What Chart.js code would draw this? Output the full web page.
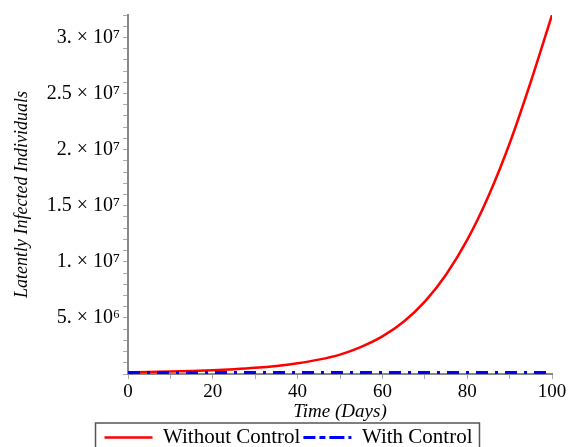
<!DOCTYPE html>
<html>
<head>
<meta charset="utf-8">
<script src="https://cdn.jsdelivr.net/npm/chart.js@4/dist/chart.umd.min.js"></script>
<style>
  html, body { margin: 0; padding: 0; background: #ffffff; }
  #wrap { width: 577px; height: 447px; }
</style>
</head>
<body>
<div id="wrap"><canvas id="c" width="577" height="447"></canvas></div>
<script>
// ---- data ----
const days = [0, 5, 10, 15, 20, 25, 30, 35, 40, 45, 50, 55, 60, 65, 70, 75, 80, 85, 90, 95, 100];
const withoutControl = [1.5e5, 1.8e5, 2.2e5, 2.7e5, 3.4e5, 4.3e5, 5.5e5, 7.2e5, 9.6e5, 1.28e6, 1.73e6,
  2.42e6, 3.35e6, 4.65e6, 6.45e6, 8.85e6, 1.195e7, 1.585e7, 2.055e7, 2.605e7, 3.2e7];
const withControl = [1.3e5, 1.3e5, 1.3e5, 1.3e5, 1.3e5, 1.3e5, 1.3e5, 1.3e5, 1.3e5, 1.3e5, 1.3e5,
  1.3e5, 1.3e5, 1.3e5, 1.3e5, 1.3e5, 1.3e5, 1.3e5, 1.3e5, 1.3e5, 1.3e5];
const seriesNames = ['Without Control', 'With Control'];
const xTickValues = [0, 20, 40, 60, 80, 100];
const xTickLabels = ['0', '20', '40', '60', '80', '100'];
const yTickValues = [5e6, 1e7, 1.5e7, 2e7, 2.5e7, 3e7];
const yTickLabels = ['5. \u00d7 10\u2076', '1. \u00d7 10\u2077', '1.5 \u00d7 10\u2077', '2. \u00d7 10\u2077', '2.5 \u00d7 10\u2077', '3. \u00d7 10\u2077'];
const xTitle = 'Time (Days)';
const yTitle = 'Latently Infected Individuals';

const serif = "'Liberation Serif', 'Times New Roman', serif";

const legendBorder = {
  id: 'legendBorder',
  afterDraw(chart) {
    const lg = chart.legend;
    if (!lg || !lg.legendHitBoxes || !lg.legendHitBoxes.length) return;
    const hb = lg.legendHitBoxes;
    let l = Infinity, r = -Infinity, t = Infinity;
    hb.forEach(b => { l = Math.min(l, b.left); r = Math.max(r, b.left + b.width); t = Math.min(t, b.top); });
    const ctx = chart.ctx;
    ctx.save();
    ctx.strokeStyle = '#555555';
    ctx.lineWidth = 1.5;
    ctx.strokeRect(l - 9, t - 4, (r - l) + 16, 40);
    ctx.restore();
  }
};

new Chart(document.getElementById('c'), {
  type: 'line',
  data: {
    datasets: [
      {
        label: seriesNames[0],
        data: days.map((d, i) => ({ x: d, y: withoutControl[i] })),
        borderColor: '#ff0000',
        backgroundColor: '#ff0000',
        borderWidth: 2.5,
        pointRadius: 0,
        cubicInterpolationMode: 'monotone',
        order: 1
      },
      {
        label: seriesNames[1],
        data: days.map((d, i) => ({ x: d, y: withControl[i] })),
        borderColor: '#0000ff',
        backgroundColor: '#0000ff',
        borderWidth: 3,
        borderDash: [12, 7, 3, 7],
        pointRadius: 0,
        order: 0
      }
    ]
  },
  options: {
    responsive: false,
    animation: false,
    devicePixelRatio: 1,
    layout: { padding: { left: 0, right: 0, top: 12, bottom: -11 } },
    plugins: {
      tooltip: { enabled: false },
      legend: {
        position: 'bottom',
        labels: {
          usePointStyle: false,
          boxWidth: 48,
          boxHeight: 0,
          padding: 3,
          color: '#000000',
          font: { family: serif, size: 21 },
          sort: (a, b) => a.datasetIndex - b.datasetIndex
        }
      }
    },
    scales: {
      x: {
        type: 'linear',
        min: 0,
        max: 100,
        afterFit(scale) { scale.height = 50; scale.paddingRight = 25; },
        ticks: {
          stepSize: 10,
          autoSkip: false,
          maxRotation: 0,
          padding: 2,
          color: '#000000',
          font: { family: serif, size: 19 },
          callback: (v) => { const i = xTickValues.indexOf(v); return i >= 0 ? xTickLabels[i] : ''; }
        },
        grid: { drawOnChartArea: false, drawTicks: true, tickLength: 5, tickColor: '#aaaaaa', tickWidth: 1 },
        border: { display: true, color: '#888888', width: 2 },
        title: {
          display: true,
          text: xTitle,
          color: '#000000',
          font: { family: serif, size: 19, style: 'italic' },
          padding: { top: 0, bottom: 1 }
        }
      },
      y: {
        type: 'linear',
        min: 0,
        max: 3.2e7,
        afterFit(scale) { scale.width = 128; },
        ticks: {
          stepSize: 1e6,
          autoSkip: false,
          padding: 3,
          color: '#000000',
          font: { family: serif, size: 20 },
          callback: (v) => { const i = yTickValues.indexOf(v); return i >= 0 ? yTickLabels[i] : ''; }
        },
        grid: { drawOnChartArea: false, drawTicks: true, tickLength: 5, tickColor: '#aaaaaa', tickWidth: 1 },
        border: { display: true, color: '#888888', width: 2 },
        title: {
          display: true,
          text: yTitle,
          color: '#000000',
          font: { family: serif, size: 18, style: 'italic' },
          padding: { top: 11, bottom: 0 }
        }
      }
    }
  },
  plugins: [legendBorder]
});
</script>
</body>
</html>
